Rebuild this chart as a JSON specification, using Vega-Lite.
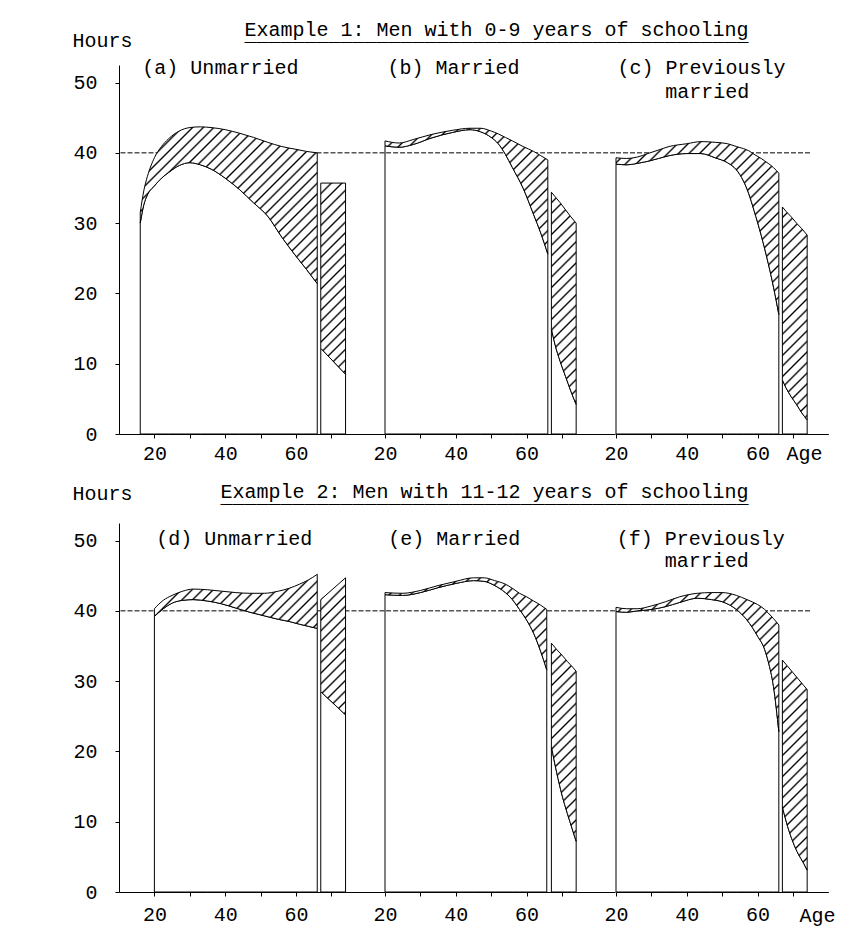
{
  "$schema": "https://vega.github.io/schema/vega-lite/v6.json",
  "padding": {"left": 72, "top": 20, "right": 30, "bottom": 24},
  "params": [
    {
      "name": "hatch",
      "value": [
        {"offset":0.0082,"color":"#fff"},{"offset":0.01,"color":"#000"},{"offset":0.0118,"color":"#fff"},
        {"offset":0.0182,"color":"#fff"},{"offset":0.02,"color":"#000"},{"offset":0.0218,"color":"#fff"},
        {"offset":0.0282,"color":"#fff"},{"offset":0.03,"color":"#000"},{"offset":0.0318,"color":"#fff"},
        {"offset":0.0382,"color":"#fff"},{"offset":0.04,"color":"#000"},{"offset":0.0418,"color":"#fff"},
        {"offset":0.0482,"color":"#fff"},{"offset":0.05,"color":"#000"},{"offset":0.0518,"color":"#fff"},
        {"offset":0.0582,"color":"#fff"},{"offset":0.06,"color":"#000"},{"offset":0.0618,"color":"#fff"},
        {"offset":0.0682,"color":"#fff"},{"offset":0.07,"color":"#000"},{"offset":0.0718,"color":"#fff"},
        {"offset":0.0782,"color":"#fff"},{"offset":0.08,"color":"#000"},{"offset":0.0818,"color":"#fff"},
        {"offset":0.0882,"color":"#fff"},{"offset":0.09,"color":"#000"},{"offset":0.0918,"color":"#fff"},
        {"offset":0.0982,"color":"#fff"},{"offset":0.1,"color":"#000"},{"offset":0.1018,"color":"#fff"},
        {"offset":0.1082,"color":"#fff"},{"offset":0.11,"color":"#000"},{"offset":0.1118,"color":"#fff"},
        {"offset":0.1182,"color":"#fff"},{"offset":0.12,"color":"#000"},{"offset":0.1218,"color":"#fff"},
        {"offset":0.1282,"color":"#fff"},{"offset":0.13,"color":"#000"},{"offset":0.1318,"color":"#fff"},
        {"offset":0.1382,"color":"#fff"},{"offset":0.14,"color":"#000"},{"offset":0.1418,"color":"#fff"},
        {"offset":0.1482,"color":"#fff"},{"offset":0.15,"color":"#000"},{"offset":0.1518,"color":"#fff"},
        {"offset":0.1582,"color":"#fff"},{"offset":0.16,"color":"#000"},{"offset":0.1618,"color":"#fff"},
        {"offset":0.1682,"color":"#fff"},{"offset":0.17,"color":"#000"},{"offset":0.1718,"color":"#fff"},
        {"offset":0.1782,"color":"#fff"},{"offset":0.18,"color":"#000"},{"offset":0.1818,"color":"#fff"},
        {"offset":0.1882,"color":"#fff"},{"offset":0.19,"color":"#000"},{"offset":0.1918,"color":"#fff"},
        {"offset":0.1982,"color":"#fff"},{"offset":0.2,"color":"#000"},{"offset":0.2018,"color":"#fff"},
        {"offset":0.2082,"color":"#fff"},{"offset":0.21,"color":"#000"},{"offset":0.2118,"color":"#fff"},
        {"offset":0.2182,"color":"#fff"},{"offset":0.22,"color":"#000"},{"offset":0.2218,"color":"#fff"},
        {"offset":0.2282,"color":"#fff"},{"offset":0.23,"color":"#000"},{"offset":0.2318,"color":"#fff"},
        {"offset":0.2382,"color":"#fff"},{"offset":0.24,"color":"#000"},{"offset":0.2418,"color":"#fff"},
        {"offset":0.2482,"color":"#fff"},{"offset":0.25,"color":"#000"},{"offset":0.2518,"color":"#fff"},
        {"offset":0.2582,"color":"#fff"},{"offset":0.26,"color":"#000"},{"offset":0.2618,"color":"#fff"},
        {"offset":0.2682,"color":"#fff"},{"offset":0.27,"color":"#000"},{"offset":0.2718,"color":"#fff"},
        {"offset":0.2782,"color":"#fff"},{"offset":0.28,"color":"#000"},{"offset":0.2818,"color":"#fff"},
        {"offset":0.2882,"color":"#fff"},{"offset":0.29,"color":"#000"},{"offset":0.2918,"color":"#fff"},
        {"offset":0.2982,"color":"#fff"},{"offset":0.3,"color":"#000"},{"offset":0.3018,"color":"#fff"},
        {"offset":0.3082,"color":"#fff"},{"offset":0.31,"color":"#000"},{"offset":0.3118,"color":"#fff"},
        {"offset":0.3182,"color":"#fff"},{"offset":0.32,"color":"#000"},{"offset":0.3218,"color":"#fff"},
        {"offset":0.3282,"color":"#fff"},{"offset":0.33,"color":"#000"},{"offset":0.3318,"color":"#fff"}
      ]
    }
  ],
  "datasets": {
    "bands": [
      {"panel":"a","part":"main","age":16,"lo":30.0,"hi":31.5},
      {"panel":"a","part":"main","age":17,"lo":32.6,"hi":34.6},
      {"panel":"a","part":"main","age":18,"lo":34.0,"hi":36.6},
      {"panel":"a","part":"main","age":20,"lo":35.3,"hi":39.3},
      {"panel":"a","part":"main","age":22,"lo":36.4,"hi":40.9},
      {"panel":"a","part":"main","age":24,"lo":37.2,"hi":42.0},
      {"panel":"a","part":"main","age":27,"lo":38.2,"hi":43.1},
      {"panel":"a","part":"main","age":30,"lo":38.6,"hi":43.6},
      {"panel":"a","part":"main","age":33,"lo":38.3,"hi":43.7},
      {"panel":"a","part":"main","age":36,"lo":37.7,"hi":43.6},
      {"panel":"a","part":"main","age":40,"lo":36.4,"hi":43.3},
      {"panel":"a","part":"main","age":44,"lo":34.8,"hi":42.8},
      {"panel":"a","part":"main","age":48,"lo":32.9,"hi":42.2},
      {"panel":"a","part":"main","age":52,"lo":31.0,"hi":41.5},
      {"panel":"a","part":"main","age":56,"lo":28.0,"hi":40.9},
      {"panel":"a","part":"main","age":60,"lo":25.3,"hi":40.5},
      {"panel":"a","part":"main","age":63,"lo":23.4,"hi":40.2},
      {"panel":"a","part":"main","age":66,"lo":21.4,"hi":40.0},
      {"panel":"a","part":"post","age":67,"lo":12.2,"hi":35.7},
      {"panel":"a","part":"post","age":74,"lo":8.5,"hi":35.7},

      {"panel":"b","part":"main","age":20,"lo":41.0,"hi":41.7},
      {"panel":"b","part":"main","age":24,"lo":40.8,"hi":41.4},
      {"panel":"b","part":"main","age":28,"lo":41.2,"hi":41.9},
      {"panel":"b","part":"main","age":33,"lo":42.1,"hi":42.6},
      {"panel":"b","part":"main","age":39,"lo":42.9,"hi":43.2},
      {"panel":"b","part":"main","age":44,"lo":43.3,"hi":43.5},
      {"panel":"b","part":"main","age":47,"lo":43.0,"hi":43.5},
      {"panel":"b","part":"main","age":50,"lo":42.2,"hi":43.1},
      {"panel":"b","part":"main","age":52,"lo":41.3,"hi":42.7},
      {"panel":"b","part":"main","age":54,"lo":39.8,"hi":42.2},
      {"panel":"b","part":"main","age":56,"lo":37.9,"hi":41.7},
      {"panel":"b","part":"main","age":59,"lo":35.0,"hi":40.9},
      {"panel":"b","part":"main","age":62,"lo":31.2,"hi":40.2},
      {"panel":"b","part":"main","age":64,"lo":28.6,"hi":39.6},
      {"panel":"b","part":"main","age":66,"lo":25.6,"hi":39.0},
      {"panel":"b","part":"post","age":67,"lo":15.0,"hi":34.4},
      {"panel":"b","part":"post","age":68,"lo":12.8,"hi":33.8},
      {"panel":"b","part":"post","age":69.5,"lo":10.3,"hi":32.9},
      {"panel":"b","part":"post","age":71,"lo":8.2,"hi":31.9},
      {"panel":"b","part":"post","age":72.5,"lo":6.1,"hi":30.9},
      {"panel":"b","part":"post","age":74,"lo":4.2,"hi":30.0},

      {"panel":"c","part":"main","age":20,"lo":38.4,"hi":39.3},
      {"panel":"c","part":"main","age":23,"lo":38.3,"hi":39.2},
      {"panel":"c","part":"main","age":26,"lo":38.5,"hi":39.4},
      {"panel":"c","part":"main","age":29,"lo":38.8,"hi":39.9},
      {"panel":"c","part":"main","age":32,"lo":39.2,"hi":40.4},
      {"panel":"c","part":"main","age":35,"lo":39.6,"hi":40.9},
      {"panel":"c","part":"main","age":40,"lo":39.9,"hi":41.3},
      {"panel":"c","part":"main","age":44,"lo":39.9,"hi":41.6},
      {"panel":"c","part":"main","age":48,"lo":39.3,"hi":41.5},
      {"panel":"c","part":"main","age":51.5,"lo":38.6,"hi":41.3},
      {"panel":"c","part":"main","age":54,"lo":37.6,"hi":40.9},
      {"panel":"c","part":"main","age":56,"lo":36.0,"hi":40.6},
      {"panel":"c","part":"main","age":57.5,"lo":34.2,"hi":40.3},
      {"panel":"c","part":"main","age":59,"lo":31.8,"hi":39.8},
      {"panel":"c","part":"main","age":61,"lo":28.3,"hi":39.2},
      {"panel":"c","part":"main","age":63,"lo":24.3,"hi":38.5},
      {"panel":"c","part":"main","age":64.5,"lo":20.9,"hi":37.9},
      {"panel":"c","part":"main","age":66,"lo":17.0,"hi":37.1},
      {"panel":"c","part":"post","age":67,"lo":7.7,"hi":32.3},
      {"panel":"c","part":"post","age":68,"lo":6.6,"hi":31.7},
      {"panel":"c","part":"post","age":69.5,"lo":5.3,"hi":30.9},
      {"panel":"c","part":"post","age":71,"lo":4.2,"hi":30.0},
      {"panel":"c","part":"post","age":72.5,"lo":3.0,"hi":29.2},
      {"panel":"c","part":"post","age":74,"lo":2.0,"hi":28.3},

      {"panel":"d","part":"main","age":20,"lo":39.2,"hi":40.3},
      {"panel":"d","part":"main","age":22.5,"lo":40.3,"hi":41.5},
      {"panel":"d","part":"main","age":25,"lo":41.1,"hi":42.2},
      {"panel":"d","part":"main","age":28,"lo":41.5,"hi":42.8},
      {"panel":"d","part":"main","age":31,"lo":41.6,"hi":43.1},
      {"panel":"d","part":"main","age":35,"lo":41.4,"hi":43.0},
      {"panel":"d","part":"main","age":39,"lo":41.0,"hi":42.8},
      {"panel":"d","part":"main","age":43,"lo":40.4,"hi":42.6},
      {"panel":"d","part":"main","age":47,"lo":39.8,"hi":42.5},
      {"panel":"d","part":"main","age":51,"lo":39.3,"hi":42.5},
      {"panel":"d","part":"main","age":55,"lo":38.8,"hi":42.8},
      {"panel":"d","part":"main","age":58,"lo":38.5,"hi":43.2},
      {"panel":"d","part":"main","age":61,"lo":38.1,"hi":43.8},
      {"panel":"d","part":"main","age":63.5,"lo":37.8,"hi":44.4},
      {"panel":"d","part":"main","age":66,"lo":37.5,"hi":45.2},
      {"panel":"d","part":"post","age":67,"lo":28.5,"hi":41.6},
      {"panel":"d","part":"post","age":74,"lo":25.2,"hi":44.7},

      {"panel":"e","part":"main","age":20,"lo":42.3,"hi":42.6},
      {"panel":"e","part":"main","age":25,"lo":42.2,"hi":42.5},
      {"panel":"e","part":"main","age":30,"lo":42.6,"hi":42.9},
      {"panel":"e","part":"main","age":35,"lo":43.3,"hi":43.6},
      {"panel":"e","part":"main","age":40,"lo":43.9,"hi":44.2},
      {"panel":"e","part":"main","age":45,"lo":44.3,"hi":44.7},
      {"panel":"e","part":"main","age":48,"lo":44.2,"hi":44.7},
      {"panel":"e","part":"main","age":51,"lo":43.6,"hi":44.3},
      {"panel":"e","part":"main","age":54,"lo":42.6,"hi":43.8},
      {"panel":"e","part":"main","age":56,"lo":41.6,"hi":43.2},
      {"panel":"e","part":"main","age":58,"lo":40.2,"hi":42.5},
      {"panel":"e","part":"main","age":60,"lo":38.7,"hi":42.0},
      {"panel":"e","part":"main","age":62,"lo":36.8,"hi":41.4},
      {"panel":"e","part":"main","age":64,"lo":34.2,"hi":40.8},
      {"panel":"e","part":"main","age":65.7,"lo":31.6,"hi":40.2},
      {"panel":"e","part":"post","age":67,"lo":20.7,"hi":35.4},
      {"panel":"e","part":"post","age":68.5,"lo":17.0,"hi":34.5},
      {"panel":"e","part":"post","age":70,"lo":13.8,"hi":33.7},
      {"panel":"e","part":"post","age":71.5,"lo":11.2,"hi":32.8},
      {"panel":"e","part":"post","age":73,"lo":8.8,"hi":32.0},
      {"panel":"e","part":"post","age":74,"lo":7.2,"hi":31.4},

      {"panel":"f","part":"main","age":20,"lo":39.9,"hi":40.5},
      {"panel":"f","part":"main","age":23,"lo":39.8,"hi":40.3},
      {"panel":"f","part":"main","age":26,"lo":40.0,"hi":40.3},
      {"panel":"f","part":"main","age":30,"lo":40.2,"hi":40.7},
      {"panel":"f","part":"main","age":34,"lo":40.6,"hi":41.3},
      {"panel":"f","part":"main","age":38,"lo":41.2,"hi":42.0},
      {"panel":"f","part":"main","age":43,"lo":41.8,"hi":42.5},
      {"panel":"f","part":"main","age":47,"lo":41.6,"hi":42.6},
      {"panel":"f","part":"main","age":50,"lo":41.3,"hi":42.6},
      {"panel":"f","part":"main","age":54,"lo":40.2,"hi":42.2},
      {"panel":"f","part":"main","age":57,"lo":38.7,"hi":41.6},
      {"panel":"f","part":"main","age":60,"lo":36.4,"hi":40.9},
      {"panel":"f","part":"main","age":62,"lo":34.5,"hi":40.2},
      {"panel":"f","part":"main","age":63,"lo":32.8,"hi":39.7},
      {"panel":"f","part":"main","age":64.5,"lo":29.2,"hi":38.9},
      {"panel":"f","part":"main","age":66,"lo":22.8,"hi":38.0},
      {"panel":"f","part":"post","age":67,"lo":12.1,"hi":33.0},
      {"panel":"f","part":"post","age":68.5,"lo":9.3,"hi":32.1},
      {"panel":"f","part":"post","age":70,"lo":7.1,"hi":31.2},
      {"panel":"f","part":"post","age":71.5,"lo":5.4,"hi":30.3},
      {"panel":"f","part":"post","age":73,"lo":4.1,"hi":29.4},
      {"panel":"f","part":"post","age":74,"lo":3.1,"hi":28.8}
    ]
  },
  "config": {
    "view": {"stroke": null},
    "font": "Liberation Mono",
    "axis": {
      "grid": false,
      "domainColor": "black",
      "domainWidth": 1,
      "tickColor": "black",
      "tickWidth": 1,
      "tickSize": 4,
      "labelColor": "black",
      "labelFont": "Liberation Mono",
      "labelFontSize": 20,
      "titleColor": "black",
      "titleFont": "Liberation Mono",
      "titleFontSize": 20,
      "titleFontWeight": "normal"
    },
    "title": {
      "font": "Liberation Mono",
      "fontSize": 20,
      "fontWeight": "normal",
      "color": "black",
      "subtitleFont": "Liberation Mono",
      "subtitleFontSize": 20,
      "subtitleColor": "black"
    },
    "text": {"font": "Liberation Mono", "fontSize": 20, "color": "black"}
  },
  "columns": 3,
  "spacing": {"row": 89, "column": 0},
  "bounds": "flush",
  "concat": [
    {
      "width": 265.5,
      "height": 369,
      "layer": [
        {
          "data": {"name": "bands"},
          "transform": [{"filter": "datum.panel == 'a'"}],
          "mark": {"type": "area", "interpolate": "monotone", "fill": "white", "stroke": "black", "strokeWidth": 1},
          "encoding": {
            "x": {"field": "age", "type": "quantitative", "scale": {"domain": [10, 85], "nice": false},
                  "axis": {"values": [20, 30, 40, 50, 60, 70], "labelExpr": "datum.value % 20 == 0 ? datum.label : ''", "title": null, "labelFlush": false, "labelPadding": 5}},
            "y": {"field": "lo", "type": "quantitative", "scale": {"domain": [0, 52.5], "nice": false},
                  "axis": {"values": [0, 10, 20, 30, 40, 50], "title": "Hours", "titleAngle": 0, "titleAlign": "left", "titleBaseline": "alphabetic", "titleX": -47, "titleY": -19, "labelPadding": 18}},
            "y2": {"datum": 0},
            "detail": {"field": "part"}
          }
        },
        {
          "data": {"values": [{}]},
          "mark": {"type": "rule", "color": "black", "strokeWidth": 1, "strokeDash": [5, 2]},
          "encoding": {"y": {"datum": 40}}
        },
        {
          "data": {"name": "bands"},
          "transform": [{"filter": "datum.panel == 'a'"}],
          "mark": {"type": "area", "interpolate": "monotone", "stroke": "black", "strokeWidth": 1,
                   "fill": {"expr": "datum.part == 'main' ? {gradient: 'linear', x1: 0, y1: 0, x2: 3.359, y2: 2.974, stops: hatch} : {gradient: 'linear', x1: 0, y1: 0, x2: 0.707, y2: 5.456, stops: hatch}"}},
          "encoding": {
            "x": {"field": "age", "type": "quantitative"},
            "y": {"field": "hi", "type": "quantitative"},
            "y2": {"field": "lo"},
            "detail": {"field": "part"}
          }
        },
        {
          "data": {"values": [{"label": "(a) Unmarried"}]},
          "mark": {"type": "text", "align": "left", "baseline": "alphabetic"},
          "encoding": {"x": {"datum": 16.6}, "y": {"datum": 51.2}, "text": {"field": "label"}}
        }
      ]
    },
    {
      "width": 230.1,
      "height": 369,
      "title": {
        "text": "Example 1: Men with 0-9 years of schooling",
        "subtitle": "__________________________________________",
        "anchor": "end",
        "frame": "group",
        "dx": 133.4,
        "offset": 13,
        "subtitlePadding": -15
      },
      "layer": [
        {
          "data": {"name": "bands"},
          "transform": [{"filter": "datum.panel == 'b'"}],
          "mark": {"type": "area", "interpolate": "monotone", "fill": "white", "stroke": "black", "strokeWidth": 1},
          "encoding": {
            "x": {"field": "age", "type": "quantitative", "scale": {"domain": [20, 85], "nice": false},
                  "axis": {"values": [20, 30, 40, 50, 60, 70], "labelExpr": "datum.value % 20 == 0 ? datum.label : ''", "title": null, "labelFlush": false, "labelPadding": 5}},
            "y": {"field": "lo", "type": "quantitative", "scale": {"domain": [0, 52.5], "nice": false},
                  "axis": {"domain": false, "ticks": false, "labels": false, "title": null}},
            "y2": {"datum": 0},
            "detail": {"field": "part"}
          }
        },
        {
          "data": {"values": [{}]},
          "mark": {"type": "rule", "color": "black", "strokeWidth": 1, "strokeDash": [5, 2]},
          "encoding": {"y": {"datum": 40}}
        },
        {
          "data": {"name": "bands"},
          "transform": [{"filter": "datum.panel == 'b'"}],
          "mark": {"type": "area", "interpolate": "monotone", "stroke": "black", "strokeWidth": 1,
                   "fill": {"expr": "datum.part == 'main' ? {gradient: 'linear', x1: 0, y1: 0, x2: 4.079, y2: 3.151, stops: hatch} : {gradient: 'linear', x1: 0, y1: 0, x2: 0.575, y2: 4.929, stops: hatch}"}},
          "encoding": {
            "x": {"field": "age", "type": "quantitative"},
            "y": {"field": "hi", "type": "quantitative"},
            "y2": {"field": "lo"},
            "detail": {"field": "part"}
          }
        },
        {
          "data": {"values": [{"label": "(b) Married"}]},
          "mark": {"type": "text", "align": "left", "baseline": "alphabetic"},
          "encoding": {"x": {"datum": 20.7}, "y": {"datum": 51.2}, "text": {"field": "label"}}
        }
      ]
    },
    {
      "width": 212.4,
      "height": 369,
      "layer": [
        {
          "data": {"name": "bands"},
          "transform": [{"filter": "datum.panel == 'c'"}],
          "mark": {"type": "area", "interpolate": "monotone", "fill": "white", "stroke": "black", "strokeWidth": 1},
          "encoding": {
            "x": {"field": "age", "type": "quantitative", "scale": {"domain": [20, 80], "nice": false},
                  "axis": {"values": [20, 30, 40, 50, 60, 70], "labelExpr": "datum.value % 20 == 0 ? datum.label : ''", "title": "Age", "titleX": 188, "titleY": 25, "titleAlign": "center", "titleBaseline": "alphabetic", "labelFlush": false, "labelPadding": 5}},
            "y": {"field": "lo", "type": "quantitative", "scale": {"domain": [0, 52.5], "nice": false},
                  "axis": {"domain": false, "ticks": false, "labels": false, "title": null}},
            "y2": {"datum": 0},
            "detail": {"field": "part"}
          }
        },
        {
          "data": {"values": [{}]},
          "mark": {"type": "rule", "color": "black", "strokeWidth": 1, "strokeDash": [5, 2]},
          "encoding": {"x": {"datum": 20}, "x2": {"datum": 75}, "y": {"datum": 40}}
        },
        {
          "data": {"name": "bands"},
          "transform": [{"filter": "datum.panel == 'c'"}],
          "mark": {"type": "area", "interpolate": "monotone", "stroke": "black", "strokeWidth": 1,
                   "fill": {"expr": "datum.part == 'main' ? {gradient: 'linear', x1: 0, y1: 0, x2: 3.062, y2: 3.251, stops: hatch} : {gradient: 'linear', x1: 0, y1: 0, x2: 0.572, y2: 4.913, stops: hatch}"}},
          "encoding": {
            "x": {"field": "age", "type": "quantitative"},
            "y": {"field": "hi", "type": "quantitative"},
            "y2": {"field": "lo"},
            "detail": {"field": "part"}
          }
        },
        {
          "data": {"values": [{"label": "(c) Previously"}]},
          "mark": {"type": "text", "align": "left", "baseline": "alphabetic"},
          "encoding": {"x": {"datum": 20.4}, "y": {"datum": 51.2}, "text": {"field": "label"}}
        },
        {
          "data": {"values": [{"label": "married"}]},
          "mark": {"type": "text", "align": "left", "baseline": "alphabetic"},
          "encoding": {"x": {"datum": 33.9}, "y": {"datum": 47.8}, "text": {"field": "label"}}
        }
      ]
    },
    {
      "width": 265.5,
      "height": 369,
      "layer": [
        {
          "data": {"name": "bands"},
          "transform": [{"filter": "datum.panel == 'd'"}],
          "mark": {"type": "area", "interpolate": "monotone", "fill": "white", "stroke": "black", "strokeWidth": 1},
          "encoding": {
            "x": {"field": "age", "type": "quantitative", "scale": {"domain": [10, 85], "nice": false},
                  "axis": {"values": [20, 30, 40, 50, 60, 70], "labelExpr": "datum.value % 20 == 0 ? datum.label : ''", "title": null, "labelFlush": false, "labelPadding": 8}},
            "y": {"field": "lo", "type": "quantitative", "scale": {"domain": [0, 52.5], "nice": false},
                  "axis": {"values": [0, 10, 20, 30, 40, 50], "title": "Hours", "titleAngle": 0, "titleAlign": "left", "titleBaseline": "alphabetic", "titleX": -47, "titleY": -24, "labelPadding": 18}},
            "y2": {"datum": 0},
            "detail": {"field": "part"}
          }
        },
        {
          "data": {"values": [{}]},
          "mark": {"type": "rule", "color": "black", "strokeWidth": 1, "strokeDash": [5, 2]},
          "encoding": {"y": {"datum": 40}}
        },
        {
          "data": {"name": "bands"},
          "transform": [{"filter": "datum.panel == 'd'"}],
          "mark": {"type": "area", "interpolate": "monotone", "stroke": "black", "strokeWidth": 1,
                   "fill": {"expr": "datum.part == 'main' ? {gradient: 'linear', x1: 0, y1: 0, x2: 5.866, y2: 1.949, stops: hatch} : {gradient: 'linear', x1: 0, y1: 0, x2: 1.354, y2: 7.492, stops: hatch}"}},
          "encoding": {
            "x": {"field": "age", "type": "quantitative"},
            "y": {"field": "hi", "type": "quantitative"},
            "y2": {"field": "lo"},
            "detail": {"field": "part"}
          }
        },
        {
          "data": {"values": [{"label": "(d) Unmarried"}]},
          "mark": {"type": "text", "align": "left", "baseline": "alphabetic"},
          "encoding": {"x": {"datum": 20.5}, "y": {"datum": 49.4}, "text": {"field": "label"}}
        }
      ]
    },
    {
      "width": 230.1,
      "height": 369,
      "title": {
        "text": "Example 2: Men with 11-12 years of schooling",
        "subtitle": "____________________________________________",
        "anchor": "end",
        "frame": "group",
        "dx": 133.4,
        "offset": 16,
        "subtitlePadding": -15
      },
      "layer": [
        {
          "data": {"name": "bands"},
          "transform": [{"filter": "datum.panel == 'e'"}],
          "mark": {"type": "area", "interpolate": "monotone", "fill": "white", "stroke": "black", "strokeWidth": 1},
          "encoding": {
            "x": {"field": "age", "type": "quantitative", "scale": {"domain": [20, 85], "nice": false},
                  "axis": {"values": [20, 30, 40, 50, 60, 70], "labelExpr": "datum.value % 20 == 0 ? datum.label : ''", "title": null, "labelFlush": false, "labelPadding": 8}},
            "y": {"field": "lo", "type": "quantitative", "scale": {"domain": [0, 52.5], "nice": false},
                  "axis": {"domain": false, "ticks": false, "labels": false, "title": null}},
            "y2": {"datum": 0},
            "detail": {"field": "part"}
          }
        },
        {
          "data": {"values": [{}]},
          "mark": {"type": "rule", "color": "black", "strokeWidth": 1, "strokeDash": [5, 2]},
          "encoding": {"y": {"datum": 40}}
        },
        {
          "data": {"name": "bands"},
          "transform": [{"filter": "datum.panel == 'e'"}],
          "mark": {"type": "area", "interpolate": "monotone", "stroke": "black", "strokeWidth": 1,
                   "fill": {"expr": "datum.part == 'main' ? {gradient: 'linear', x1: 0, y1: 0, x2: 4.951, y2: 2.819, stops: hatch} : {gradient: 'linear', x1: 0, y1: 0, x2: 0.659, y2: 5.269, stops: hatch}"}},
          "encoding": {
            "x": {"field": "age", "type": "quantitative"},
            "y": {"field": "hi", "type": "quantitative"},
            "y2": {"field": "lo"},
            "detail": {"field": "part"}
          }
        },
        {
          "data": {"values": [{"label": "(e) Married"}]},
          "mark": {"type": "text", "align": "left", "baseline": "alphabetic"},
          "encoding": {"x": {"datum": 20.9}, "y": {"datum": 49.4}, "text": {"field": "label"}}
        }
      ]
    },
    {
      "width": 212.4,
      "height": 369,
      "layer": [
        {
          "data": {"name": "bands"},
          "transform": [{"filter": "datum.panel == 'f'"}],
          "mark": {"type": "area", "interpolate": "monotone", "fill": "white", "stroke": "black", "strokeWidth": 1},
          "encoding": {
            "x": {"field": "age", "type": "quantitative", "scale": {"domain": [20, 80], "nice": false},
                  "axis": {"values": [20, 30, 40, 50, 60, 70], "labelExpr": "datum.value % 20 == 0 ? datum.label : ''", "title": "Age", "titleX": 201, "titleY": 29, "titleAlign": "center", "titleBaseline": "alphabetic", "labelFlush": false, "labelPadding": 8}},
            "y": {"field": "lo", "type": "quantitative", "scale": {"domain": [0, 52.5], "nice": false},
                  "axis": {"domain": false, "ticks": false, "labels": false, "title": null}},
            "y2": {"datum": 0},
            "detail": {"field": "part"}
          }
        },
        {
          "data": {"values": [{}]},
          "mark": {"type": "rule", "color": "black", "strokeWidth": 1, "strokeDash": [5, 2]},
          "encoding": {"x": {"datum": 20}, "x2": {"datum": 75}, "y": {"datum": 40}}
        },
        {
          "data": {"name": "bands"},
          "transform": [{"filter": "datum.panel == 'f'"}],
          "mark": {"type": "area", "interpolate": "monotone", "stroke": "black", "strokeWidth": 1,
                   "fill": {"expr": "datum.part == 'main' ? {gradient: 'linear', x1: 0, y1: 0, x2: 3.763, y2: 3.217, stops: hatch} : {gradient: 'linear', x1: 0, y1: 0, x2: 0.587, y2: 4.977, stops: hatch}"}},
          "encoding": {
            "x": {"field": "age", "type": "quantitative"},
            "y": {"field": "hi", "type": "quantitative"},
            "y2": {"field": "lo"},
            "detail": {"field": "part"}
          }
        },
        {
          "data": {"values": [{"label": "(f) Previously"}]},
          "mark": {"type": "text", "align": "left", "baseline": "alphabetic"},
          "encoding": {"x": {"datum": 20.2}, "y": {"datum": 49.4}, "text": {"field": "label"}}
        },
        {
          "data": {"values": [{"label": "married"}]},
          "mark": {"type": "text", "align": "left", "baseline": "alphabetic"},
          "encoding": {"x": {"datum": 33.8}, "y": {"datum": 46.2}, "text": {"field": "label"}}
        }
      ]
    }
  ]
}
